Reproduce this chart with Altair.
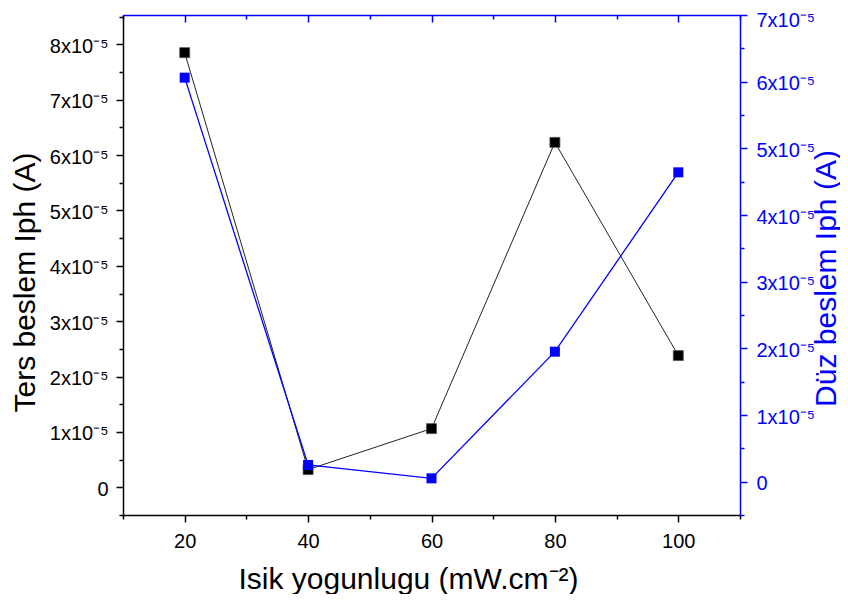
import altair as alt
import pandas as pd

# data
intensity = [20, 40, 60, 80, 100]
ters_iph = [7.85e-5, 0.32e-5, 1.06e-5, 6.23e-5, 2.38e-5]
duz_iph = [6.06e-5, 0.25e-5, 0.05e-5, 1.95e-5, 4.64e-5]

# tick positions (major every 1e-5, minor halfway)
left_ticks = [-0.5e-5, 0.0, 0.5e-5, 1e-5, 1.5e-5, 2e-5, 2.5e-5, 3e-5, 3.5e-5, 4e-5,
              4.5e-5, 5e-5, 5.5e-5, 6e-5, 6.5e-5, 7e-5, 7.5e-5, 8e-5, 8.5e-5]
right_ticks = [-0.5e-5, 0.0, 0.5e-5, 1e-5, 1.5e-5, 2e-5, 2.5e-5, 3e-5, 3.5e-5, 4e-5,
               4.5e-5, 5e-5, 5.5e-5, 6e-5, 6.5e-5, 7e-5]
x_ticks = [10, 20, 30, 40, 50, 60, 70, 80, 90, 100, 110]

FONT = "Liberation Sans"
BLUE = "#0000ff"

df_t = pd.DataFrame({"x": intensity, "y": ters_iph})
df_d = pd.DataFrame({"x": intensity, "y": duz_iph})

is_major_y = "abs(datum.value*1e5 - round(datum.value*1e5)) < 0.01"
y_label = ("abs(datum.value*1e5 - round(datum.value*1e5)) < 0.01 ? "
           "(round(datum.value*1e5) == 0 ? '0' : round(datum.value*1e5) + 'x10\u207b\u2075') : ''")
is_major_x = "datum.value % 20 == 0"

x_scale = alt.Scale(domain=[10, 110], nice=False, zero=False)

x_bottom = alt.Axis(
    orient="bottom", values=x_ticks, grid=False,
    labelExpr=f"{is_major_x} ? datum.value : ''",
    tickSize=alt.ExprRef(expr=f"{is_major_x} ? 7 : 4"),
    tickColor="black", tickWidth=1.5, domainColor="black", domainWidth=1.5,
    labelColor="black", labelFont=FONT, labelFontSize=20, labelPadding=9,
    labelOverlap=False, labelFlush=False,
    title="Isik yogunlugu (mW.cm\u207b\u00b2)", titleFont=FONT, titleFontSize=30,
    titleFontWeight="normal", titleColor="black",
    titleX=285, titleY=73, titleBaseline="alphabetic", titleAlign="center",
)

x_top = alt.Axis(
    orient="top", values=x_ticks, grid=False, labels=False,
    tickSize=alt.ExprRef(expr=f"{is_major_x} ? -7 : -4"),
    tickColor=BLUE, tickWidth=1.5, domainColor=BLUE, domainWidth=1.5,
    title=None,
)

y_left = alt.Axis(
    orient="left", values=left_ticks, grid=False,
    labelExpr=y_label,
    tickSize=alt.ExprRef(expr=f"{is_major_y} ? 7 : 4"),
    tickColor="black", tickWidth=1.5, domainColor="black", domainWidth=1.5,
    labelColor="black", labelFont=FONT, labelFontSize=20, labelPadding=8,
    labelOverlap=False, labelFlush=False, labelBaseline="middle", labelOffset=2,
    title="Ters beslem Iph (A)", titleFont=FONT, titleFontSize=30,
    titleFontWeight="normal", titleColor="black",
    titleAngle=270, titleX=-98, titleY=267, titleBaseline="middle", titleAlign="center",
)

y_right = alt.Axis(
    orient="right", values=right_ticks, grid=False,
    labelExpr=y_label,
    tickSize=alt.ExprRef(expr=f"{is_major_y} ? 7 : 4"),
    tickColor=BLUE, tickWidth=1.5, domainColor=BLUE, domainWidth=1.5,
    labelColor=BLUE, labelFont=FONT, labelFontSize=20, labelPadding=9,
    labelOverlap=False, labelFlush=False, labelBaseline="middle",
    labelOffset=alt.ExprRef(expr="datum.value > 6.9e-5 ? 5 : 2"),
    title="D\u00fcz beslem Iph (A)", titleFont=FONT, titleFontSize=30,
    titleFontWeight="normal", titleColor=BLUE,
    titleAngle=270, titleX=86, titleY=263, titleBaseline="middle", titleAlign="center",
)

black_layer = alt.Chart(df_t).mark_line(
    color="#222222", strokeWidth=1,
    point=alt.OverlayMarkDef(shape="square", filled=True, size=100, color="black",
                             stroke="#555555", strokeWidth=0.8),
).encode(
    x=alt.X("x:Q", scale=x_scale, axis=x_bottom),
    y=alt.Y("y:Q", scale=alt.Scale(domain=[-0.5e-5, 8.53e-5], nice=False, zero=False), axis=y_left),
)

blue_layer = alt.Chart(df_d).mark_line(
    color=BLUE, strokeWidth=1.3,
    point=alt.OverlayMarkDef(shape="square", filled=True, size=100, color=BLUE),
).encode(
    x=alt.X("x:Q", scale=x_scale, axis=x_top),
    y=alt.Y("y:Q", scale=alt.Scale(domain=[-0.5e-5, 7e-5], nice=False, zero=False), axis=y_right),
)

chart = alt.layer(black_layer, blue_layer).resolve_scale(
    y="independent"
).resolve_axis(
    x="independent", y="independent"
).properties(
    width=617, height=500,
    autosize="none",
    padding={"left": 115, "top": 7, "right": 100, "bottom": 79},
    background="white",
).configure_view(stroke=None)

chart.save("out.html", embed_options={"renderer": "svg", "actions": False})
